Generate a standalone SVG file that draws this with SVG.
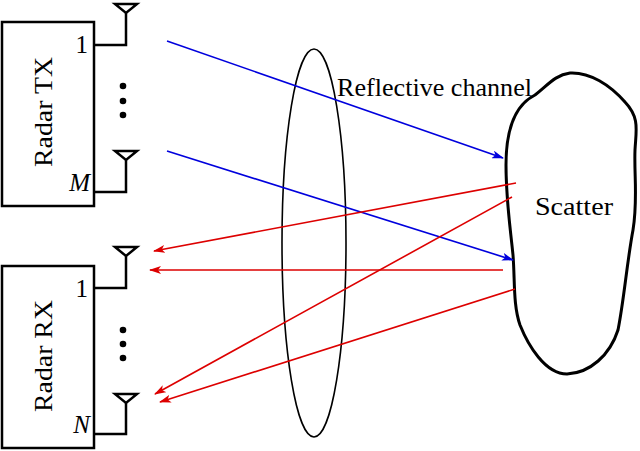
<svg xmlns="http://www.w3.org/2000/svg" width="640" height="451" viewBox="0 0 640 451">
<style>
.box{fill:#fff;stroke:#000;stroke-width:2.5}
.wire{fill:none;stroke:#000;stroke-width:2.5}
.ant{fill:#fff;stroke:#000;stroke-width:2.5;stroke-linejoin:miter}
.lbl{font-family:"Liberation Serif","Times New Roman",serif;font-size:25px;fill:#000}
.it{font-style:italic}
.blue{stroke:#0000dd;stroke-width:1.6;fill:none}
.red{stroke:#dd0000;stroke-width:1.6;fill:none}
</style>
<defs>
<marker id="ab" viewBox="0 0 12 8" refX="11" refY="4" markerWidth="12" markerHeight="8" markerUnits="userSpaceOnUse" orient="auto">
<path d="M0,0 L12,4 L0,8 L3,4 Z" fill="#0000dd"/>
</marker>
<marker id="ar" viewBox="0 0 12 8" refX="11" refY="4" markerWidth="12" markerHeight="8" markerUnits="userSpaceOnUse" orient="auto">
<path d="M0,0 L12,4 L0,8 L3,4 Z" fill="#dd0000"/>
</marker>
</defs>

<g id="radar-tx">
<rect class="box" x="2" y="22" width="92" height="184"/>
<text class="lbl" transform="translate(52,112) rotate(-90)" text-anchor="middle" textLength="110" lengthAdjust="spacingAndGlyphs">Radar TX</text>
<text class="lbl" x="88" y="53" text-anchor="end">1</text>
<text class="lbl it" x="90" y="191" text-anchor="end">M</text>
<path class="wire" d="M94,45 H126 V12"/>
<path class="ant" d="M115,4 H137 L126,13 Z"/>
<path class="wire" d="M94,192 H126 V159"/>
<path class="ant" d="M115,151 H137 L126,160 Z"/>
<circle cx="123" cy="86" r="3.3"/>
<circle cx="123" cy="101" r="3.3"/>
<circle cx="123" cy="115" r="3.3"/>
</g>

<g id="radar-rx">
<rect class="box" x="2" y="266" width="92" height="182"/>
<text class="lbl" transform="translate(52,356) rotate(-90)" text-anchor="middle" textLength="112" lengthAdjust="spacingAndGlyphs">Radar RX</text>
<text class="lbl" x="88" y="297" text-anchor="end">1</text>
<text class="lbl it" x="90" y="433" text-anchor="end">N</text>
<path class="wire" d="M94,288 H126 V255"/>
<path class="ant" d="M115,247 H137 L126,256 Z"/>
<path class="wire" d="M94,434 H126 V402"/>
<path class="ant" d="M115,394 H137 L126,403 Z"/>
<circle cx="123" cy="330" r="3.3"/>
<circle cx="123" cy="344" r="3.3"/>
<circle cx="123" cy="358" r="3.3"/>
</g>

<g id="channel">
<ellipse cx="314" cy="243" rx="32" ry="194" fill="none" stroke="#000" stroke-width="1.6"/>
<text class="lbl" x="337" y="96" textLength="195" lengthAdjust="spacingAndGlyphs">Reflective channel</text>
</g>

<g id="scatter">
<path d="M570,73 C590,72 610,85 625,102 C640,118 636,130 635,150 C634,175 638,200 633,230 C627,262 624,300 618,330 C610,355 590,373 567,374 C545,374 528,345 520,325 C513,305 515,280 513,255 C510,225 506,200 506,165 C506,130 515,105 535,95 C548,85 555,75 570,73 Z" fill="#fff" stroke="#000" stroke-width="3"/>
<text class="lbl" x="574" y="215" text-anchor="middle" textLength="78" lengthAdjust="spacingAndGlyphs">Scatter</text>
</g>

<g id="connectors">
<line class="blue" x1="167" y1="41" x2="503" y2="158" marker-end="url(#ab)"/>
<line class="blue" x1="167" y1="151" x2="513" y2="260" marker-end="url(#ab)"/>
<line class="red" x1="516" y1="183" x2="154" y2="251" marker-end="url(#ar)"/>
<line class="red" x1="503" y1="270" x2="150" y2="270" marker-end="url(#ar)"/>
<line class="red" x1="512" y1="197" x2="155" y2="394" marker-end="url(#ar)"/>
<line class="red" x1="515" y1="289" x2="160" y2="402" marker-end="url(#ar)"/>
</g>
</svg>
